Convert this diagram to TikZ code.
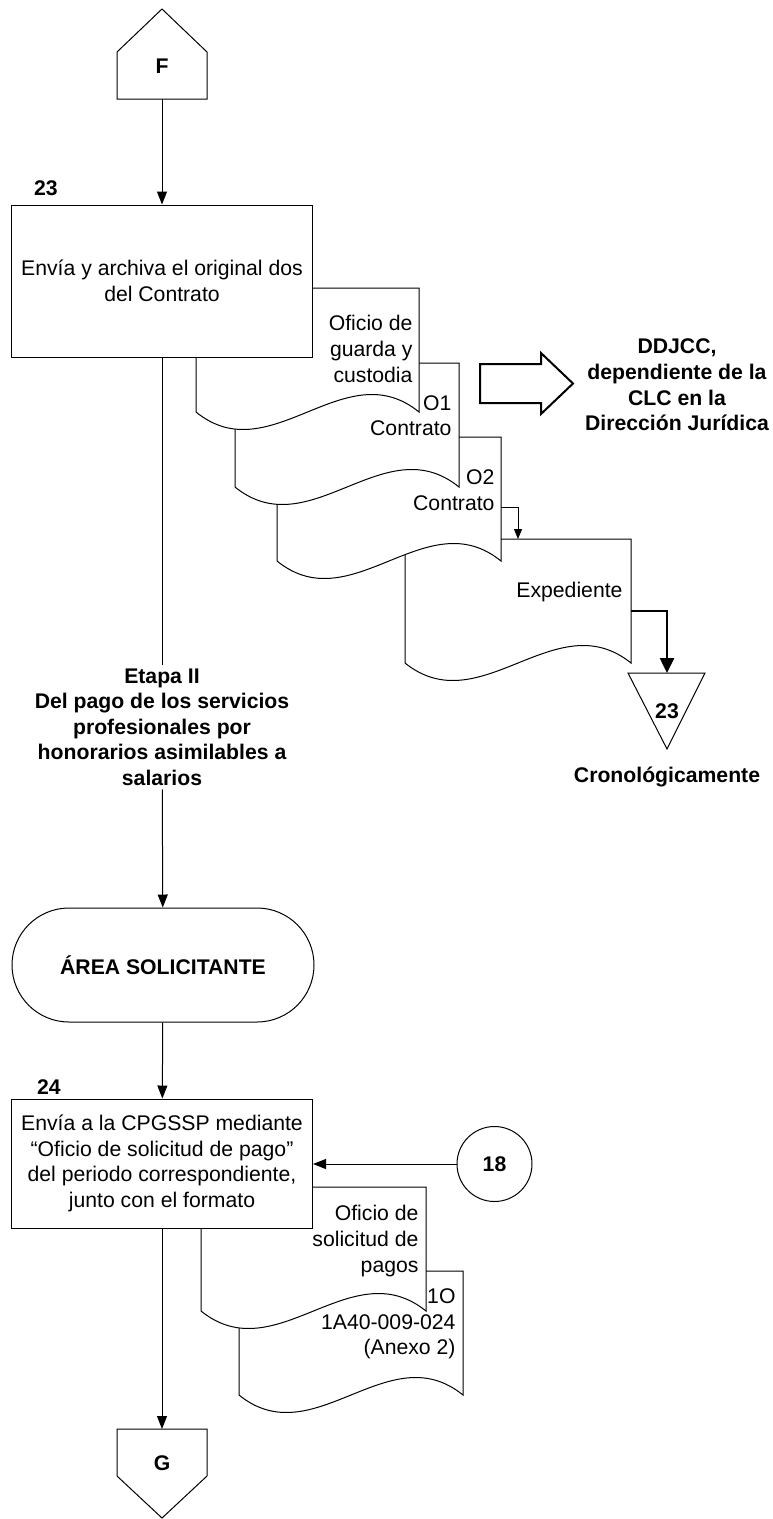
\documentclass[tikz,border=0pt]{standalone}
\usepackage{fontspec}
\setmainfont{Liberation Sans}
\usetikzlibrary{arrows.meta}

% document symbol: left, top, width
\newcommand{\docshape}[3]{%
  \draw[fill=white] ({#1},{#2+124}) -- (#1,#2) -- ({#1+#3},#2) -- ({#1+#3},{#2+124})
    .. controls ({#1+2*#3/3},{#2+63.4}) and ({#1+#3/3},{#2+184.6}) .. ({#1},{#2+124}) -- cycle;}

\begin{document}
\begin{tikzpicture}[x=1pt, y=-1pt, line width=1pt]
    \tikzstyle{every node} = [font = \fontsize{21.2}{25.6}\selectfont];
    \tikzstyle{proc} = [draw, fill = white, minimum width = 301pt, align = center];
    \tikzstyle{lbl} = [font = \fontsize{21.2}{25.6}\selectfont\bfseries, align = center];
    \tikzstyle{doctext} = [anchor = east, align = right, inner sep = 0pt];
    \tikzstyle{flow} = [-{Triangle[length = 13pt, width = 10pt]}];
    \useasboundingbox (0,0) rectangle (773,1519);
    % documents:
    \docshape{405}{539}{226}
    \docshape{277}{437}{224}
    \docshape{235}{363}{224}
    \docshape{196}{288}{223}
    \docshape{239}{1271}{224}
    \docshape{201}{1187}{225}
    % shapes:
    \draw (117,99) -- (117,52) -- (162,9) -- (207,52) -- (207,99) -- cycle;
    \draw (117,1429) -- (207,1429) -- (207,1476) -- (162,1518) -- (117,1476) -- cycle;
    \draw[fill = white] (628,673) -- (705,673) -- (667,749) -- cycle;
    \draw[line width = 2pt] (480,364) -- (541,364) -- (541,353) -- (573,383.5) -- (541,414) -- (541,403) -- (480,403) -- cycle;
    % nodes:
    \node[lbl] (F) at (162,66){F};
    \node[lbl] (n23) at (46,188){23};
    \node[proc, minimum height = 152pt] (b23) at (162,281){Envía y archiva el original dos\\del Contrato};
    \node[doctext] (d1) at (413,349){Oficio de\\guarda y\\custodia};
    \node[doctext] (d2) at (452,415.5){O1\\Contrato};
    \node[doctext] (d3) at (495,490){O2\\Contrato};
    \node[doctext] (d4) at (623,592){Expediente};
    \node[lbl] (ddjcc) at (677,385){DDJCC,\\dependiente de la\\CLC en la\\Dirección Jurídica};
    \node[lbl] (t23) at (667,711){23};
    \node[lbl] (crono) at (667,777){Cronológicamente};
    \node[lbl] (etapa) at (162,727){Etapa II\\Del pago de los servicios\\profesionales por\\honorarios asimilables a\\salarios};
    \node[lbl, draw, rounded corners = 57pt, minimum width = 302pt, minimum height = 114pt] (term) at (163,965){ÁREA SOLICITANTE};
    \node[lbl] (n24) at (49,1087){24};
    \node[proc, minimum height = 129pt] (b24) at (162,1163.5){Envía a la CPGSSP mediante\\“Oficio de solicitud de pago”\\del periodo correspondiente,\\junto con el formato};
    \node[lbl, draw, circle, minimum size = 75pt] (c18) at (494.5,1164){18};
    \node[doctext] (d5) at (419,1241){Oficio de\\solicitud de\\pagos};
    \node[doctext] (d6) at (456,1324){1O\\1A40-009-024\\(Anexo 2)};
    \node[lbl] (G) at (162,1463){G};
    % ends:
    \coordinate (Fb) at (162,99);
    \coordinate (Gt) at (162,1429);
    \coordinate (d3e) at (501,507);
    \coordinate (d4n) at (518,539);
    \coordinate (d4e) at (631,611);
    \coordinate (t23n) at (667,673);
    % lines:
    \draw[flow] (Fb) -- (b23);
    \draw (b23) -- (etapa);
    \draw[flow] (etapa) -- (term);
    \draw[flow] (term) -- (b24);
    \draw[flow] (b24) -- (Gt);
    \draw[flow] (c18) -- (c18 -| b24.east);
    \draw[-{Triangle[length = 10pt, width = 8pt]}] (d3e) -| (d4n);
    \draw[line width = 2.5pt, -{Triangle[length = 15pt, width = 14pt]}] (d4e) -| (t23n);
\end{tikzpicture}
\end{document}
